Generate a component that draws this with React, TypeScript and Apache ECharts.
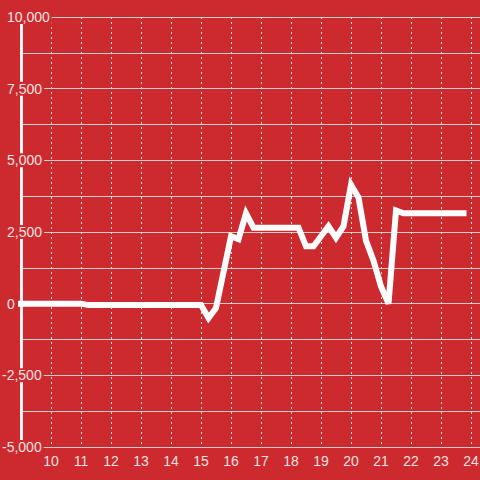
import React, { useEffect, useRef } from 'react';
import * as echarts from 'echarts';

// hours of day (x) and values (y)
const times = [9, 11, 11.25, 15, 15.25, 15.5, 15.75, 16, 16.25, 16.5, 16.75, 18.25, 18.5, 18.75, 19, 19.25, 19.5, 19.75, 20, 20.25, 20.5, 20.75, 21, 21.25, 21.5, 21.75, 23.75];
const values = [0, 0, -50, -50, -500, -150, 1100, 2350, 2250, 3150, 2650, 2650, 2000, 2000, 2350, 2700, 2300, 2700, 4150, 3700, 2200, 1500, 600, 0, 3250, 3150, 3150];

const xMin = 9;
const xMax = 25;
const xStep = 1;
const xFirstLabel = 10;
const xLastLabel = 24;
const yMin = -5000;
const yMax = 10000;
const yGridStep = 1250;
const yLabelStep = 2500;

const BG = '#cc2a2f';
const FONT = "'Liberation Sans', Arial, sans-serif";
const LABEL_COLOR = '#f3e1e1';

export default function App() {
  const ref = useRef<HTMLDivElement>(null);
  useEffect(() => {
    document.body.style.margin = '0';
    const chart = echarts.init(ref.current as HTMLDivElement, null, { renderer: 'svg' });
    const data = times.map((t, i) => [t, values[i]]);
    chart.setOption({
      animation: false,
      backgroundColor: BG,
      grid: { left: 21, width: 480, top: 17, height: 430, containLabel: false, outerBoundsMode: 'none' },
      xAxis: {
        type: 'value',
        min: xMin,
        max: xMax,
        interval: xStep,
        z: 0,
        axisLine: { show: true, onZero: false, lineStyle: { color: '#cccccc', width: 1 } },
        axisTick: { show: false },
        axisLabel: {
          color: LABEL_COLOR,
          fontSize: 14,
          fontFamily: FONT,
          margin: 7,
          formatter: (v: number) => (v < xFirstLabel || v > xLastLabel || !Number.isInteger(v) ? '' : String(v)),
        },
        splitLine: { show: true, lineStyle: { color: '#e2e2e2', width: 1, type: [2, 3] } },
      },
      yAxis: [
        {
          type: 'value',
          min: yMin,
          max: yMax,
          interval: yGridStep,
          position: 'left',
          z: 0,
          axisLine: { show: true, onZero: false, lineStyle: { color: '#f5f5f5', width: 3 } },
          axisTick: { show: false },
          axisLabel: { show: false },
          splitLine: { show: true, lineStyle: { color: '#cccccc', width: 1 } },
        },
        {
          type: 'value',
          min: yMin,
          max: yMax,
          interval: yLabelStep,
          position: 'left',
          z: 3,
          axisLine: { show: false, onZero: false },
          axisTick: { show: false },
          splitLine: { show: false },
          axisLabel: {
            color: LABEL_COLOR,
            fontSize: 14,
            fontFamily: FONT,
            align: 'left',
            margin: 19,
            backgroundColor: BG,
            padding: [0, 2, 0, 0],
            formatter: (v: number) => {
              const s = v.toLocaleString('en-US');
              return v < 0 ? '{n|' + s + '}' : '{p|' + s + '}';
            },
            rich: {
              n: { color: LABEL_COLOR, fontSize: 14, fontFamily: FONT },
              p: { color: LABEL_COLOR, fontSize: 14, fontFamily: FONT, padding: [0, 0, 0, 5] },
            },
          },
        },
      ],
      series: [
        {
          type: 'line',
          yAxisIndex: 0,
          data,
          symbol: 'none',
          showSymbol: false,
          z: 5,
          lineStyle: { color: '#ffffff', width: 6, cap: 'square', join: 'miter' },
        },
      ],
    });
    return () => chart.dispose();
  }, []);
  return <div ref={ref} style={{ position: 'absolute', left: 0, top: 0, width: 480, height: 480 }} />;
}
